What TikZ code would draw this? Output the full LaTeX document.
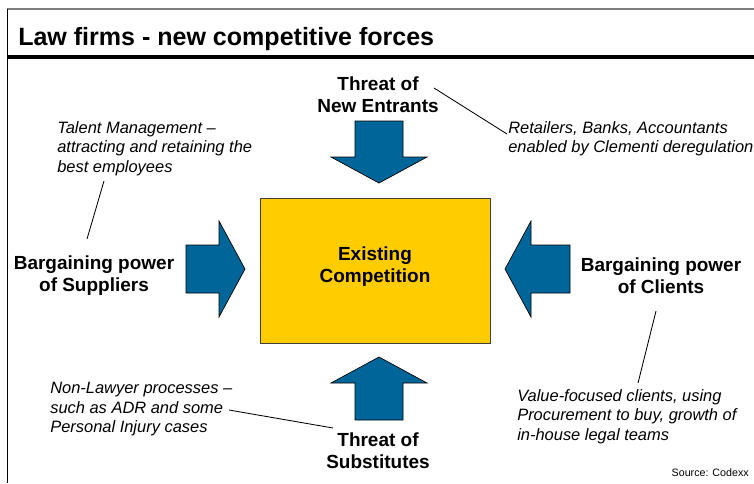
\documentclass[tikz,border=0pt]{standalone}
\usepackage{fontspec}
\setmainfont{Liberation Sans}
\definecolor{azulFlecha}{HTML}{00669A}
\definecolor{amarilloCaja}{HTML}{FFCC00}
\definecolor{grisMarco}{HTML}{7F7F7F}

\begin{document}
\begin{tikzpicture}[x=0.025cm,y=-0.025cm,
  fuerza/.style={font=\fontsize{13.5}{15.6}\selectfont\bfseries,align=center,inner sep=0},
  nota/.style={font=\fontsize{11.7}{13.9}\selectfont\itshape,align=left,inner sep=0,anchor=north west},
  guia/.style={line width=0.6pt},
  flecha/.pic={\filldraw[fill=azulFlecha,draw=black,line width=0.5pt]
    (0,-24) -- (#1,-24) -- (#1,-48) -- (#1+26,0) -- (#1,48) -- (#1,24) -- (0,24) -- cycle;}]
  \useasboundingbox (0,0) rectangle (754,483);
  % marco y titulo
  \draw[grisMarco,line width=1.4pt] (7,9) -- (754,9);
  \draw[line width=0.7pt] (7,9) -- (7,483);
  \draw[line width=2.5pt] (7,57) -- (754,57);
  \node[anchor=base west,inner sep=0,font=\fontsize{17.8}{20}\selectfont\bfseries]
    (titulo) at (18,45) {Law firms - new competitive forces};
  % caja central
  \node[draw=black!75,fill=amarilloCaja,minimum width=163.5pt,minimum height=103.1pt]
    (competencia) at (375,270.5) {};
  \node[fuerza] (existente) at (375,267) {Existing\\Competition};
  % flechas
  \pic[rotate=-90] at (379,121) {flecha=36};
  \pic[rotate=90] at (379,420) {flecha=37};
  \pic at (186,269) {flecha=33};
  \pic[rotate=180] at (570,269) {flecha=39};
  \node[fuerza] (entrantes) at (378,94.8) {Threat of\\New Entrants};
  \node[fuerza] (sustitutos) at (378,451) {Threat of\\Substitutes};
  \node[fuerza] (proveedores) at (94,275.8) {Bargaining power\\of Suppliers};
  \node[fuerza] (clientes) at (661,275.8) {Bargaining power\\of Clients};
  % notas
  \node[nota] (talento) at (57,121) {Talent Management --\\attracting and retaining the\\best employees};
  \node[nota] (minoristas) at (508,121) {Retailers, Banks, Accountants\\enabled by Clementi deregulation};
  \node[nota] (abogados) at (50,382) {Non-Lawyer processes --\\such as ADR and some\\Personal Injury cases};
  \node[nota] (valor) at (517,389) {Value-focused clients, using\\Procurement to buy, growth of\\in-house legal teams};
  \node[font=\fontsize{7.6}{9}\selectfont,anchor=east,inner sep=0] (fuente) at (749,473) {Source: Codexx};
  % lineas guia
  \coordinate (guiaE1) at (434,88);  \coordinate (guiaE2) at (507,134);
  \coordinate (guiaP1) at (104,181); \coordinate (guiaP2) at (87,239);
  \coordinate (guiaS1) at (229,410); \coordinate (guiaS2) at (333,428);
  \coordinate (guiaC1) at (656,311); \coordinate (guiaC2) at (638,383);
  \draw[guia] (guiaE1) -- (guiaE2);
  \draw[guia] (guiaP1) -- (guiaP2);
  \draw[guia] (guiaS1) -- (guiaS2);
  \draw[guia] (guiaC1) -- (guiaC2);
\end{tikzpicture}
\end{document}
